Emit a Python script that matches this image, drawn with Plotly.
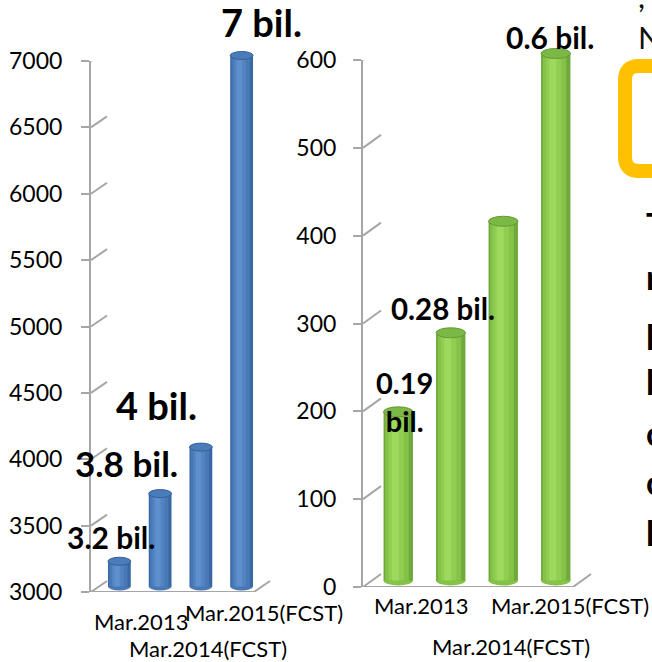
import plotly.graph_objects as go

W, H = 652, 662

# ---------------- data ----------------
sales_values = [3190, 3700, 4050, 7000]
sales_labels = ["3.2 bil.", "3.8 bil.", "4 bil.", "7 bil."]
profit_values = [192, 282, 409, 600]
profit_labels = ["0.19<br>bil.", "0.28 bil.", None, "0.6 bil."]
category_labels = ["Mar.2013", "Mar.2014(FCST)", "Mar.2015(FCST)"]
left_ticks = [3000, 3500, 4000, 4500, 5000, 5500, 6000, 6500, 7000]
right_ticks = [0, 100, 200, 300, 400, 500, 600]

# ---------------- styling / layout constants ----------------
FONT = "Lato"
GRID = "#A6A6A6"

charts = [
    dict(values=sales_values, labels=sales_labels, ticks=left_ticks, rng=(3000, 7000),
         front_x=(91, 254), front_y=(592, 61), depth=(16, 11), bar_w=0.56, ell=4,
         colors=["#3A68A2", "#4878B6", "#5384C2", "#5E90CE"],
         top="#4A7CBA", topline="#34609A",
         label_shift=[(-8, 24, 30), (-34, 31, 35), (-44, 42, 38), (20, 33, 38)],
         cat_pos=[(141, 621), (208, 648), (264, 612)], standoff=14),
    dict(values=profit_values, labels=profit_labels, ticks=right_ticks, rng=(0, 600),
         front_x=(363, 573), front_y=(587, 60), depth=(18, 13), bar_w=0.56, ell=5,
         colors=["#6FA83C", "#84C248", "#90CE52", "#9CD95E"],
         top="#7CB846", topline="#649A36",
         label_shift=[(6, 10, 29), (-8, 24, 29.5), None, (-6, 16, 30)],
         cat_pos=[(421, 605), (511, 646), (570, 605)], standoff=12),
]

fig = go.Figure()
layout = dict(width=W, height=H, margin=dict(l=0, r=0, t=0, b=0, pad=0, autoexpand=False),
              paper_bgcolor="white", plot_bgcolor="rgba(0,0,0,0)",
              showlegend=False, barmode="overlay", font=dict(family=FONT, color="black"))
shapes, annotations = [], []


def px2x(px):
    return px / W


def px2y(py):
    return 1 - py / H


for k, c in enumerate(charts):
    ig, ifr, ib = 3 * k + 1, 3 * k + 2, 3 * k + 3
    sfx = lambda i: "" if i == 1 else str(i)
    r0, r1 = c["rng"]
    fx0, fx1 = c["front_x"]
    fy0, fy1 = c["front_y"]
    dx, dy = c["depth"]
    s = (fy0 - fy1) / (r1 - r0)  # px per unit

    # --- back wall (gridlines) ---
    pad = 2 / s
    layout["xaxis" + sfx(ig)] = dict(domain=[px2x(fx0 + dx), px2x(fx1 + dx)], range=[0, 1],
                                     visible=False, anchor="y" + sfx(ig), automargin=False)
    layout["yaxis" + sfx(ig)] = dict(domain=[px2y(fy0 - dy + pad * s), px2y(fy1 - dy - pad * s)],
                                     range=[r0 - pad, r1 + pad], anchor="x" + sfx(ig),
                                     tickvals=c["ticks"], showticklabels=False, ticks="",
                                     showgrid=True, gridcolor=GRID, gridwidth=2,
                                     zeroline=False, showline=False, automargin=False)
    # --- front axis (ticks + labels) ---
    layout["xaxis" + sfx(ifr)] = dict(domain=[px2x(fx0), px2x(fx1)], range=[0, 1],
                                      visible=False, anchor="y" + sfx(ifr), automargin=False)
    layout["yaxis" + sfx(ifr)] = dict(domain=[px2y(fy0), px2y(fy1)], range=[r0, r1],
                                      anchor="x" + sfx(ifr), tickvals=c["ticks"],
                                      ticks="outside", ticklen=8, tickwidth=2, tickcolor=GRID,
                                      showline=True, linecolor=GRID, linewidth=2,
                                      showgrid=False, zeroline=False, automargin=False,
                                      ticklabelstandoff=c["standoff"],
                                      tickfont=dict(family=FONT, size=23, color="black"))
    # --- bars (middle plane) ---
    bpad = (c["ell"] + 3) / s
    mx0, mx1 = fx0 + dx / 2, fx1 + dx / 2
    my0, my1 = fy0 - dy / 2, fy1 - dy / 2
    layout["xaxis" + sfx(ib)] = dict(domain=[px2x(mx0), px2x(mx1)], range=[-0.5, 3.5],
                                     visible=False, anchor="y" + sfx(ib), automargin=False)
    layout["yaxis" + sfx(ib)] = dict(domain=[px2y(my0 + bpad * s), px2y(my1 - bpad * s)],
                                     range=[r0 - bpad, r1 + bpad], visible=False,
                                     anchor="x" + sfx(ib), automargin=False)

    vals = c["values"]
    xs = list(range(len(vals)))
    bw = c["bar_w"]
    layers = [(1.0, 0.0), (0.80, -0.04), (0.52, -0.07), (0.24, -0.10)]
    for (frac, shift), col in zip(layers, c["colors"]):
        w = bw * frac
        fig.add_trace(go.Bar(x=xs, y=[v - r0 for v in vals], base=r0, width=w,
                             offset=-w / 2 + shift * bw, marker=dict(color=col, line=dict(width=0)),
                             xaxis="x" + sfx(ib), yaxis="y" + sfx(ib), hoverinfo="skip"))
    for i, v in zip(xs, vals):
        # rounded bottom
        shapes.append(dict(type="circle", xref="x" + sfx(ib), yref="y" + sfx(ib),
                           x0=i - bw / 2, x1=i + bw / 2, ysizemode="pixel", yanchor=r0,
                           y0=-c["ell"], y1=c["ell"], fillcolor=c["colors"][1],
                           line=dict(width=0), layer="between"))
        # top cap
        shapes.append(dict(type="circle", xref="x" + sfx(ib), yref="y" + sfx(ib),
                           x0=i - bw / 2, x1=i + bw / 2, ysizemode="pixel", yanchor=v,
                           y0=-c["ell"], y1=c["ell"], fillcolor=c["top"],
                           line=dict(width=1, color=c["topline"]), layer="above"))
    # data labels
    for i, v, lab, sh in zip(xs, vals, c["labels"], c["label_shift"]):
        if lab is None:
            continue
        annotations.append(dict(xref="x" + sfx(ib), yref="y" + sfx(ib), x=i, y=v,
                                xshift=sh[0], yshift=sh[1], text=lab, showarrow=False,
                                font=dict(family=FONT, size=sh[2], color="black", weight="bold"),
                                align="center"))
    # category labels (staggered, as in the source slide)
    for lab, (cx, cy) in zip(category_labels, c["cat_pos"]):
        annotations.append(dict(xref="paper", yref="paper", x=px2x(cx), y=px2y(cy),
                                text=lab, showarrow=False, xanchor="center", yanchor="middle",
                                font=dict(family=FONT, size=22, color="black")))
    # 3D connectors from front ticks to back wall
    for t in c["ticks"]:
        shapes.append(dict(type="line", xref="paper", yref="y" + sfx(ifr),
                           x0=px2x(fx0), x1=px2x(fx0 + dx), ysizemode="pixel", yanchor=t,
                           y0=0, y1=dy, line=dict(color=GRID, width=2), layer="below"))
    # floor
    shapes.append(dict(type="line", xref="paper", yref="y" + sfx(ifr),
                       x0=px2x(fx0), x1=px2x(fx1), y0=r0, y1=r0,
                       line=dict(color=GRID, width=2), layer="below"))
    shapes.append(dict(type="line", xref="paper", yref="y" + sfx(ifr),
                       x0=px2x(fx1), x1=px2x(fx1 + dx), ysizemode="pixel", yanchor=r0,
                       y0=0, y1=dy, line=dict(color=GRID, width=2), layer="below"))

# ---------------- right-edge slide fragments ----------------
bx0, by0, by1, br = 625, 66, 171, 14
path = ("M {a},{b} L {c},{b} Q {d},{b} {d},{e} L {d},{f} Q {d},{g} {c},{g} L {a},{g}").format(
    a=px2x(720), b=px2y(by0), c=px2x(bx0 + br), d=px2x(bx0), e=px2y(by0 + br),
    f=px2y(by1 - br), g=px2y(by1))
shapes.append(dict(type="path", xref="paper", yref="paper", path=path,
                   line=dict(color="#FFC000", width=14), layer="above"))

annotations.append(dict(xref="paper", yref="paper", x=px2x(636), y=px2y(37), text="N",
                        showarrow=False, xanchor="left", yanchor="middle",
                        font=dict(family=FONT, size=31, color="#111111")))
annotations.append(dict(xref="paper", yref="paper", x=px2x(636), y=px2y(-4), text=",",
                        showarrow=False, xanchor="left", yanchor="middle",
                        font=dict(family=FONT, size=31, color="#111111")))
side_letters = ["T", "r", "l", "l", "c", "c", "l"]
side_baselines = [235, 287, 347, 392, 443, 492, 543]
for ch, bl in zip(side_letters, side_baselines):
    annotations.append(dict(xref="paper", yref="paper", x=px2x(644), y=px2y(bl - 11), text=ch,
                            showarrow=False, xanchor="left", yanchor="middle",
                            font=dict(family=FONT, size=34, color="black", weight="bold")))

layout["shapes"] = shapes
layout["annotations"] = annotations
fig.update_layout(**layout)
fig.write_html("out.html")
